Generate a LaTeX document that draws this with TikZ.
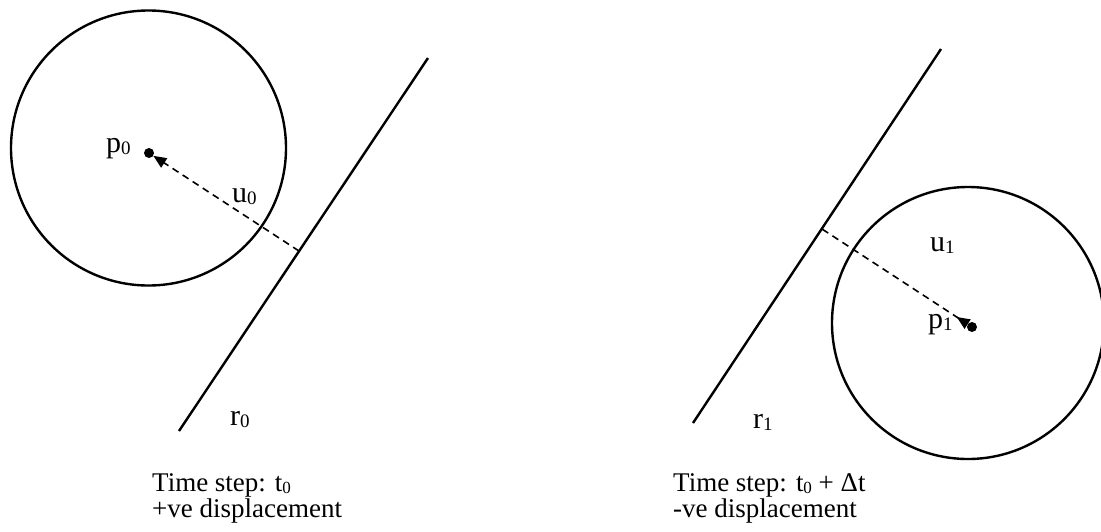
\documentclass[tikz,border=0pt]{standalone}
\usepackage{fontspec}
\setmainfont{Liberation Serif}
\usetikzlibrary{arrows.meta}
\newcommand{\lbl}[2]{{\fontsize{30}{30}\selectfont #1\raisebox{-2.5pt}{\fontsize{19}{19}\selectfont #2}}}
\newcommand{\tsub}[1]{\raisebox{-2pt}{\fontsize{17}{17}\selectfont #1}}
\begin{document}
\begin{tikzpicture}[x=1pt,y=-1pt,
  wall/.style={line width=2.4pt},
  ball/.style={line width=2.4pt},
  disp/.style={dash pattern=on 7pt off 5pt, line width=1.6pt},
  dotnode/.style={circle, fill=black, inner sep=0pt, minimum size=10pt},
  lab/.style={anchor=base west, inner sep=0pt},
  capt/.style={anchor=base west, inner sep=0pt, align=left, font=\fontsize{27}{24}\selectfont}]
\useasboundingbox (0,0) rectangle (1101,531);
\clip (0,0) rectangle (1101,531);
% left scene
\node[circle, draw, ball, minimum size=275pt, inner sep=0pt] (c0) at (148.5,148) {};
\node[dotnode] (d0) at (149,153) {};
\coordinate (a0) at (179,431);
\coordinate (b0) at (428,58);
\coordinate (w0) at (299,251);
\draw[wall] (a0) -- (b0);
\draw[disp, -{Triangle[length=13pt,width=11pt]}] (w0) -- (d0);
\node[lab] (p0) at (106,152) {\lbl{p}{0}};
\node[lab] (u0) at (232,202) {\lbl{u}{0}};
\node[lab] (r0) at (230,425) {\lbl{r}{0}};
\node[capt] (t0) at (152,517) {Time step: t\tsub{0}\\+ve displacement};
% right scene
\node[circle, draw, ball, minimum size=272pt, inner sep=0pt] (c1) at (968,323) {};
\node[dotnode] (d1) at (972,327) {};
\coordinate (a1) at (693,423);
\coordinate (b1) at (941,49);
\coordinate (w1) at (822,229);
\draw[wall] (a1) -- (b1);
\draw[disp, {Triangle[reversed,length=13pt,width=11pt]}-] (d1) -- (w1);
\node[lab] (u1) at (930,251) {\lbl{u}{1}};
\node[lab] (p1) at (928,328) {\lbl{p}{1}};
\node[lab] (r1) at (753,428) {\lbl{r}{1}};
\node[capt] (t1) at (673,517) {Time step: t\tsub{0} + Δt\\-ve displacement};
\end{tikzpicture}
\end{document}
